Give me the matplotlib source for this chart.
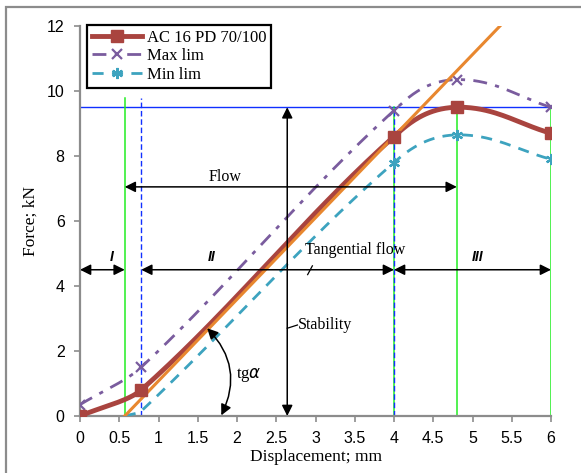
# Force vs displacement with smoothed Excel-style curves
import numpy as np
import matplotlib.pyplot as plt
from matplotlib.patches import FancyArrowPatch, Rectangle

# data
x_main = [0, 0.78, 4, 4.8, 6]
y_main = [0, 0.8, 8.6, 9.5, 8.7]
x_max = [0, 0.78, 4, 4.8, 6]
y_max = [0.35, 1.5, 9.4, 10.35, 9.5]
x_min = [0.57, 0.78, 4, 4.8, 6]
y_min = [0, 0.15, 7.8, 8.65, 7.9]
tangent_x = [0.57, 5.35]
tangent_y = [0, 12]
xticks = [0, 0.5, 1, 1.5, 2, 2.5, 3, 3.5, 4, 4.5, 5, 5.5, 6]
xtick_labels = ['0', '0.5', '1', '1.5', '2', '2.5', '3', '3.5', '4', '4.5', '5', '5.5', '6']
yticks = [0, 2, 4, 6, 8, 10, 12]

SERIF = 'Liberation Serif'
SANS = 'Liberation Sans'


def smooth(x, y, n=40):
    # bezier smoothing through the points (like Excel "smoothed line")
    P = np.column_stack([x, y]).astype(float)
    m = len(P)
    d = np.zeros_like(P)
    for i in range(m):
        a = P[max(i - 1, 0)]
        b = P[min(i + 1, m - 1)]
        v = b - a
        d[i] = v / np.hypot(*v)
    out = []
    t = np.linspace(0, 1, n)[:, None]
    for i in range(m - 1):
        L = np.hypot(*(P[i + 1] - P[i]))
        c1 = P[i] + d[i] * L / 3
        c2 = P[i + 1] - d[i + 1] * L / 3
        seg = ((1 - t) ** 3) * P[i] + 3 * ((1 - t) ** 2) * t * c1 + 3 * (1 - t) * t ** 2 * c2 + t ** 3 * P[i + 1]
        out.append(seg)
    out = np.vstack(out)
    return out[:, 0], out[:, 1]


fig = plt.figure(figsize=(5.81, 4.73), dpi=100)
ax = fig.add_axes([80 / 581, 1 - 416 / 473, 471 / 581, 390 / 473])

# outer gray border
fig.patches.append(Rectangle((6 / 581, -0.05), 1.1, 1 - 7 / 473 + 0.05, transform=fig.transFigure,
                             fill=False, edgecolor='#8c8c8c', linewidth=1.6, zorder=0))

red = '#A9443F'
purple = '#7A5C9E'
cyan = '#3DA3BF'
orange = '#E8872F'

# guide lines
ax.plot([0, 6], [9.5, 9.5], color='#1030ff', lw=1.0, zorder=2)
for xv, top in [(0.57, 9.8), (4.8, 9.5), (6, 9.5), (4, 9.5)]:
    ax.plot([xv, xv], [0, top], color='#22ee22', lw=1.1, zorder=2)
for xv, top in [(0.78, 9.8), (4, 9.5)]:
    ax.plot([xv, xv], [0, top], color='#1030ff', lw=1.0, ls=(0, (4, 2)), zorder=2)

xs, ys = smooth(x_max, y_max)
ax.plot(xs, ys, color=purple, lw=2, ls=(0, (5, 3, 1.5, 3)), zorder=3)
ax.plot(x_max, y_max, ls='none', marker='x', ms=7, mew=1.6, color=purple, zorder=4)

xs, ys = smooth(x_min, y_min)
ax.plot(xs, ys, color=cyan, lw=2, ls=(0, (4, 3)), zorder=3)
ax.plot(x_min[2:], y_min[2:], ls='none', marker=(6, 2, 0), ms=8, mew=1.6, color=cyan, zorder=4)

xs, ys = smooth(x_main, y_main)
ax.plot(xs, ys, color=red, lw=3.5, zorder=5)
ax.plot(x_main, y_main, ls='none', marker='s', ms=9, color=red, zorder=6)

ax.plot(tangent_x, tangent_y, color=orange, lw=2.2, zorder=5)

# legend proxies
h1, = ax.plot([], [], color=red, lw=3.5, marker='s', ms=9)
h2, = ax.plot([], [], color=purple, lw=2, ls=(0, (5, 3, 1.5, 3)), marker='x', ms=7, mew=1.6)
h3, = ax.plot([], [], color=cyan, lw=2, ls=(0, (4, 3)), marker=(6, 2, 0), ms=8, mew=1.6)
leg = ax.legend([h1, h2, h3], ['AC 16 PD 70/100', 'Max lim', 'Min lim'], loc='upper left',
                bbox_to_anchor=(0.014, 1.003), borderaxespad=0, fancybox=False, framealpha=1,
                edgecolor='black', handlelength=3.0, handletextpad=0.3, labelspacing=0.15,
                borderpad=0.3, prop={'family': SERIF, 'size': 12})
leg.get_frame().set_linewidth(1.6)


def arrow(p1, p2, style='<|-|>', **kw):
    a = FancyArrowPatch(p1, p2, arrowstyle=style, mutation_scale=16, color='black', lw=1.1,
                        shrinkA=0, shrinkB=0, zorder=7, **kw)
    ax.add_patch(a)


arrow((2.64, 0), (2.64, 9.5))
arrow((0.57, 7.05), (4.8, 7.05))
arrow((0, 4.5), (0.57, 4.5))
arrow((0.78, 4.5), (4, 4.5))
arrow((4, 4.5), (6, 4.5))
arrow((1.62, 2.7), (1.8, 0.02), style='<|-|>', connectionstyle='arc3,rad=-0.35')

ax.text(1.85, 7.35, 'Flow', family=SERIF, fontsize=11.5, ha='center', va='center', zorder=8)
ax.text(3.5, 5.1, 'Tangential flow', family=SERIF, fontsize=11.5, ha='center', va='center', zorder=8)
ax.plot([2.9, 2.96], [4.35, 4.62], color='black', lw=0.9, zorder=8)
ax.text(2.78, 2.8, 'Stability', family=SERIF, fontsize=11.5, ha='left', va='center', zorder=8)
ax.plot([2.64, 2.77], [2.7, 2.8], color='black', lw=0.9, zorder=8)
ax.text(2.15, 1.25, r'tg$\alpha$', family=SERIF, fontsize=12, ha='center', va='center', zorder=8)
for lx, lab in [(0.4, 'I'), (1.68, 'II'), (5.06, 'III')]:
    ax.text(lx, 4.88, lab, family=SANS, fontsize=10, fontweight='bold', style='italic',
            ha='center', va='center', zorder=8)

ax.set_xlim(0, 6)
ax.set_ylim(0, 12)
ax.set_xticks(xticks)
ax.set_xticklabels(xtick_labels)
ax.set_yticks(yticks)
for s in ['top', 'right']:
    ax.spines[s].set_visible(False)
for s in ['left', 'bottom']:
    ax.spines[s].set_color('#8c8c8c')
    ax.spines[s].set_linewidth(1.6)
ax.tick_params(axis='both', colors='#8c8c8c', labelcolor='black', width=1.2, length=4, direction='out',
               labelsize=11.5)
for lab in ax.get_xticklabels() + ax.get_yticklabels():
    lab.set_family(SANS)
ax.tick_params(axis='y', pad=7)
ax.tick_params(axis='x', pad=7)
ax.set_xlabel('Displacement; mm', family=SERIF, fontsize=12.5, labelpad=2)
ax.set_ylabel('Force; kN', family=SERIF, fontsize=12.5, labelpad=6)

fig.savefig('out.png', dpi=100)
